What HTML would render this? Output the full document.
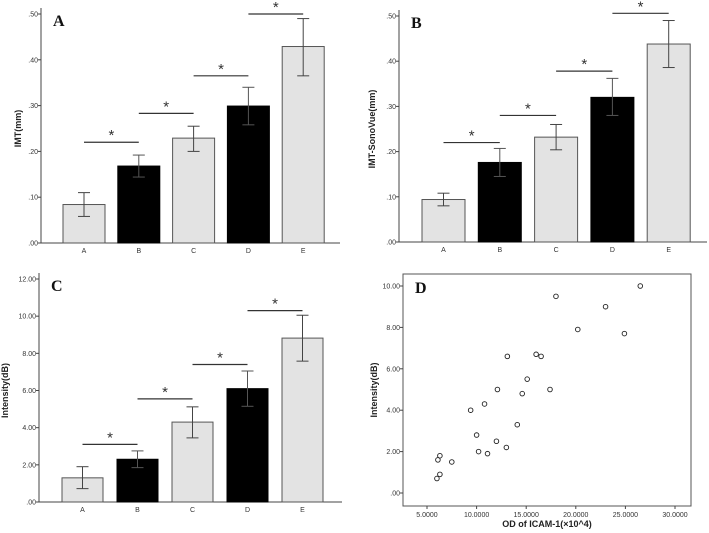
<!DOCTYPE html>
<html><head><meta charset="utf-8"><style>
body{margin:0;background:#fff}
svg{display:block}
text{font-family:"Liberation Sans",sans-serif}
text.serif{font-family:"Liberation Serif",serif}
</style></head><body>
<svg id="s" width="709" height="533"></svg>
<script>
const groups=["A","B","C","D","E"];
const aMean=[0.084,0.168,0.229,0.299,0.429];
const aLo=[0.058,0.144,0.200,0.258,0.365];
const aHi=[0.110,0.192,0.255,0.340,0.490];
const bMean=[0.094,0.176,0.232,0.320,0.438];
const bLo=[0.080,0.145,0.204,0.280,0.386];
const bHi=[0.108,0.207,0.260,0.362,0.490];
const cMean=[1.3,2.3,4.3,6.1,8.82];
const cLo=[0.72,1.85,3.45,5.15,7.58];
const cHi=[1.9,2.75,5.12,7.05,10.05];
const abTicks=[0,0.1,0.2,0.3,0.4,0.5];
const abTickLabels=[".00",".10",".20",".30",".40",".50"];
const cTicks=[0,2,4,6,8,10,12];
const cTickLabels=[".00","2.00","4.00","6.00","8.00","10.00","12.00"];
const aSig=[0.22,0.283,0.365,0.50];
const bSig=[0.22,0.28,0.378,0.506];
const cSig=[3.1,5.55,7.4,10.3];
const dX=[6.0,6.3,6.1,6.3,7.5,9.4,10.0,10.2,10.8,11.1,12.0,12.1,13.0,13.1,14.1,14.6,15.1,16.0,16.5,17.4,18.0,20.2,23.0,24.9,26.5];
const dY=[0.7,0.9,1.6,1.8,1.5,4.0,2.8,2.0,4.3,1.9,2.5,5.0,2.2,6.6,3.3,4.8,5.5,6.7,6.6,5.0,9.5,7.9,9.0,7.7,10.0];
const dXTicks=[5,10,15,20,25,30];
const dXTickLabels=["5.0000","10.0000","15.0000","20.0000","25.0000","30.0000"];
const dYTicks=[0,2,4,6,8,10];
const dYTickLabels=[".00","2.00","4.00","6.00","8.00","10.00"];

const S=document.getElementById('s');
const NS="http://www.w3.org/2000/svg";
function mk(t,a,p){const e=document.createElementNS(NS,t);for(const k in a)e.setAttribute(k,a[k]);(p||S).appendChild(e);return e;}
function txt(x,y,s,a,p){const e=mk('text',Object.assign({x:x,y:y},a),p);e.textContent=s;return e;}

function barPanel(cfg){
  const g=mk('g',{});
  
  
  const y=v=>cfg.y0-(v-cfg.min)/(cfg.max-cfg.min)*(cfg.y0-cfg.yTop);
  const ax=mk('line',{x1:cfg.ax,y1:cfg.yTop-6,x2:cfg.ax,y2:cfg.y0,stroke:'#444','stroke-width':1},g);
  
  const xa=mk('line',{x1:cfg.ax,y1:cfg.y0,x2:cfg.axEnd,y2:cfg.y0,stroke:'#444','stroke-width':1},g);
  
  cfg.ticks.forEach((t,i)=>{
    mk('line',{x1:cfg.ax-3,y1:y(t),x2:cfg.ax,y2:y(t),stroke:'#444'},g);
    const l=txt(cfg.ax-3,y(t)+2.5,cfg.tickLabels[i],{'font-size':7,'text-anchor':'end',fill:'#333'},g);
    
  });
  const bw=cfg.bw;
  groups.forEach((gname,i)=>{
    const cx=cfg.x0+i*cfg.step;
    const dark=i%2===1;
    const r=mk('rect',{x:cx-bw/2,y:y(cfg.mean[i]),width:bw,height:cfg.y0-y(cfg.mean[i]),fill:dark?'#000':'#e3e3e3',stroke:dark?'#000':'#555','stroke-width':1},g);
    
    const ec=dark?'#555':'#444';
    mk('line',{x1:cx,y1:y(cfg.hi[i]),x2:cx,y2:y(cfg.lo[i]),stroke:ec},g);
    mk('line',{x1:cx-6,y1:y(cfg.hi[i]),x2:cx+6,y2:y(cfg.hi[i]),stroke:ec},g);
    mk('line',{x1:cx-6,y1:y(cfg.lo[i]),x2:cx+6,y2:y(cfg.lo[i]),stroke:ec},g);
    const l=txt(cx,cfg.y0+10,gname,{'font-size':7,'text-anchor':'middle',fill:'#333'},g);
    
  });
  cfg.sig.forEach((v,i)=>{
    const x1=cfg.x0+i*cfg.step,x2=cfg.x0+(i+1)*cfg.step;
    const ln=mk('line',{x1:x1,y1:y(v),x2:x2,y2:y(v),stroke:'#333','stroke-width':1.2},g);
    
    const st=txt((x1+x2)/2,y(v)-2,'*',{'font-size':15,'text-anchor':'middle',fill:'#333'},g);
    
  });
  const L=txt(cfg.ax+12,cfg.yTop+12,cfg.letter,{'font-size':16,'font-weight':'bold','class':'serif',fill:'#111'},g);
  
  const yt=txt(0,0,cfg.title,{'font-size':9,'font-weight':'bold','text-anchor':'middle',fill:'#222',transform:`translate(${cfg.titleX},${(cfg.y0+cfg.yTop)/2}) rotate(-90)`},g);
  
}

barPanel({letter:'A',title:'IMT(mm)',ax:41,axEnd:340,y0:243,yTop:14,min:0,max:0.5,x0:84,step:54.8,bw:42,ticks:abTicks,tickLabels:abTickLabels,mean:aMean,lo:aLo,hi:aHi,sig:aSig,titleX:21});
barPanel({letter:'B',title:'IMT-SonoVue(mm)',ax:399,axEnd:707,y0:242,yTop:16,min:0,max:0.5,x0:443.5,step:56.3,bw:43,ticks:abTicks,tickLabels:abTickLabels,mean:bMean,lo:bLo,hi:bHi,sig:bSig,titleX:375});
barPanel({letter:'C',title:'Intensity(dB)',ax:39,axEnd:342,y0:502,yTop:279,min:0,max:12,x0:82.5,step:55,bw:41,ticks:cTicks,tickLabels:cTickLabels,mean:cMean,lo:cLo,hi:cHi,sig:cSig,titleX:8});

(function(){
  const g=mk('g',{});
  
  
  const L0=403,R0=691,T0=274,B0=506;
  const x=v=>427+(v-5)/25*(675-427);
  const y=v=>493-v/10*(493-286);
  const box=mk('rect',{x:L0,y:T0,width:R0-L0,height:B0-T0,fill:'none',stroke:'#555','stroke-width':1},g);
  
  dXTicks.forEach((t,i)=>{
    mk('line',{x1:x(t),y1:B0,x2:x(t),y2:B0+3,stroke:'#444'},g);
    const l=txt(x(t),B0+11,dXTickLabels[i],{'font-size':7,'text-anchor':'middle',fill:'#333'},g);
    
  });
  dYTicks.forEach((t,i)=>{
    mk('line',{x1:L0-3,y1:y(t),x2:L0,y2:y(t),stroke:'#444'},g);
    const l=txt(L0-3,y(t)+2.5,dYTickLabels[i],{'font-size':7,'text-anchor':'end',fill:'#333'},g);
    
  });
  dX.forEach((v,i)=>{
    const c=mk('circle',{cx:x(v),cy:y(dY[i]),r:2.3,fill:'none',stroke:'#222','stroke-width':0.9},g);
    
  });
  const Lb=txt(415,293,'D',{'font-size':16,'font-weight':'bold','class':'serif',fill:'#111'},g);
  
  const xt=txt(547,527,'OD of ICAM-1(×10^4)',{'font-size':9,'font-weight':'bold','text-anchor':'middle',fill:'#222'},g);
  
  const yt=txt(0,0,'Intensity(dB)',{'font-size':9,'font-weight':'bold','text-anchor':'middle',fill:'#222',transform:'translate(377,390) rotate(-90)'},g);
  
})();
</script>
</body></html>
